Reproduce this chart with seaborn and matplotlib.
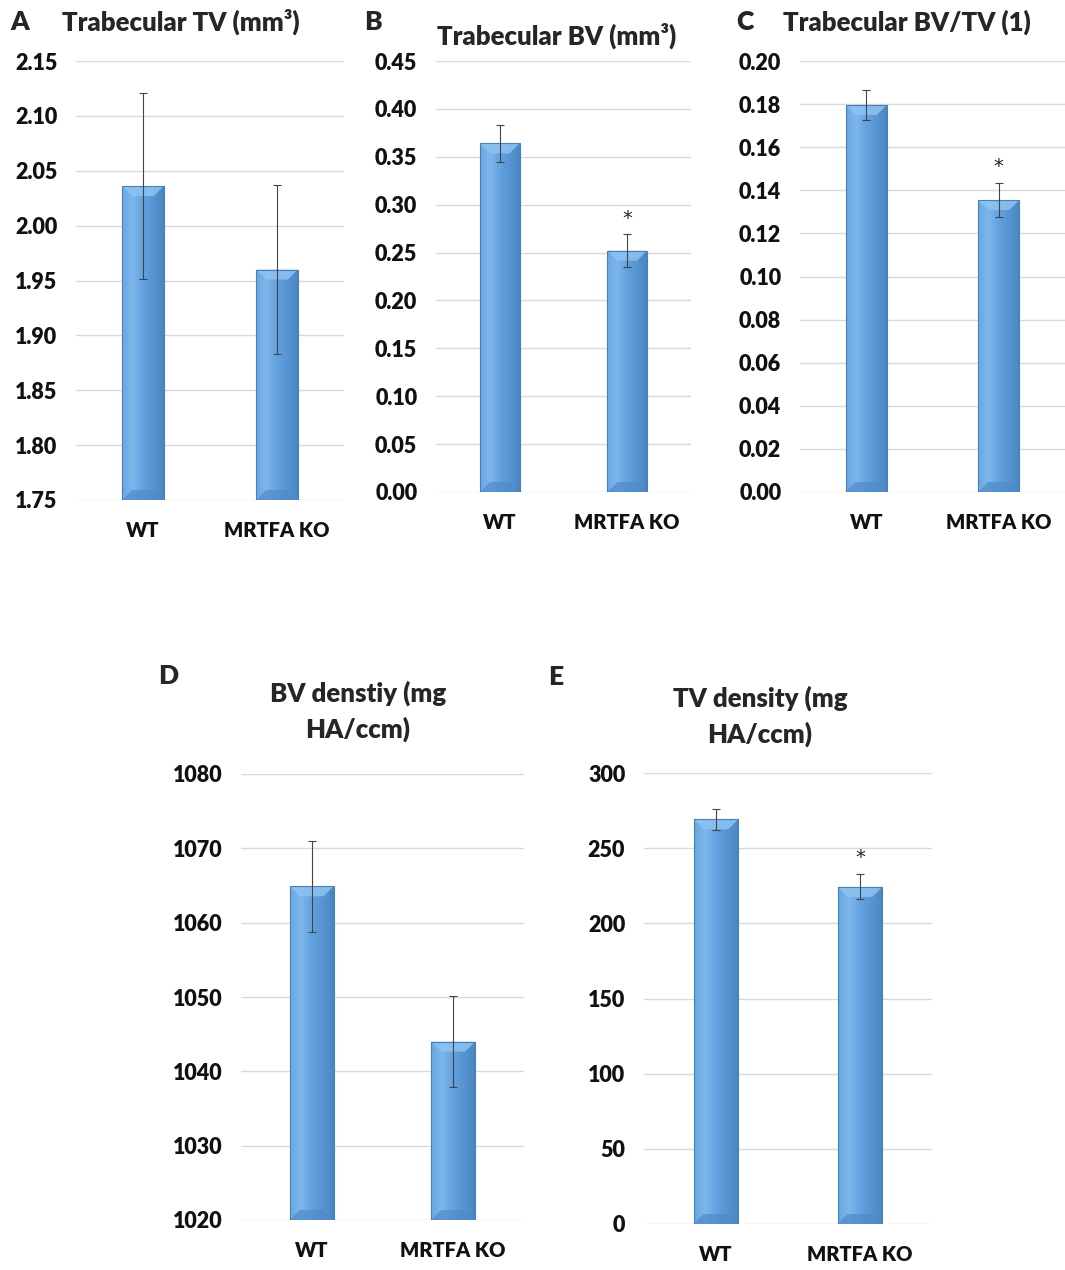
import numpy as np
import matplotlib
matplotlib.use("Agg")
import matplotlib.pyplot as plt
import seaborn as sns
from matplotlib.patches import Polygon
from matplotlib.colors import LinearSegmentedColormap

# ---------------- data ----------------
categories = ["WT", "MRTFA KO"]

tv_mean = [2.036, 1.960]
tv_err = [0.085, 0.077]

bv_mean = [0.364, 0.252]
bv_err = [0.019, 0.017]

bvtv_mean = [0.1796, 0.1355]
bvtv_err = [0.007, 0.008]

bvd_mean = [1064.9, 1044.0]
bvd_err = [6.1, 6.1]

tvd_mean = [269.2, 224.2]
tvd_err = [6.8, 8.3]

sig_B = [False, True]
sig_C = [False, True]
sig_E = [False, True]

# ---------------- style ----------------
sns.set_style("white")
plt.rcParams["font.family"] = ["Lato", "DejaVu Sans"]
WEIGHT = "heavy"
plt.rcParams["font.weight"] = WEIGHT

W, H = 1065, 1270
fig = plt.figure(figsize=(W / 100, H / 100), dpi=100)
fig.patch.set_facecolor("white")

BASE = "#5B9BD5"
EDGE = "#4A7FB5"
grad_cmap = LinearSegmentedColormap.from_list(
    "g", ["#6AA8E2", "#7DB6EC", "#63A2DE", "#5795D2", "#4A86C2"])


def px_axes(left, right, top, bottom):
    return fig.add_axes([left / W, 1 - bottom / H, (right - left) / W, (bottom - top) / H])


def ftext(x, y, s, **kw):
    fig.text(x / W, 1 - y / H, s, **kw)


def decorate_bars(ax, ylim):
    ax.figure.canvas.draw()
    bbox = ax.get_window_extent()
    ypp = (ylim[1] - ylim[0]) / bbox.height
    xpp = (ax.get_xlim()[1] - ax.get_xlim()[0]) / bbox.width
    for p in list(ax.patches):
        x0 = p.get_x()
        w = p.get_width()
        y0 = max(p.get_y(), ylim[0])
        y1 = p.get_y() + p.get_height()
        p.set_facecolor("none")
        p.set_edgecolor(EDGE)
        p.set_linewidth(0.8)
        p.set_zorder(3)
        grad = np.linspace(0, 1, 64).reshape(1, -1)
        im = ax.imshow(grad, cmap=grad_cmap, aspect="auto",
                       extent=[x0, x0 + w, y0, y1], zorder=2, interpolation="bicubic")
        im.set_clip_path(p)
        d = 10
        dx = d * xpp
        dy = d * ypp
        top = Polygon([[x0, y1], [x0 + w, y1], [x0 + w - dx, y1 - dy], [x0 + dx, y1 - dy]],
                      closed=True, facecolor="#8EC3F2", edgecolor="none", alpha=0.85, zorder=2.5)
        bot = Polygon([[x0, y0], [x0 + w, y0], [x0 + w - dx, y0 + dy], [x0 + dx, y0 + dy]],
                      closed=True, facecolor="#4E8BC8", edgecolor="none", alpha=0.7, zorder=2.5)
        ax.add_patch(top)
        ax.add_patch(bot)
    ax.set_xlim(-0.5, 1.5)
    ax.set_ylim(*ylim)


def panel(rect, means, errs, ylim, ticks, fmt, sig=None, star_off=0.0):
    ax = px_axes(*rect)
    sns.barplot(x=categories, y=means, ax=ax, color=BASE, width=0.31,
                errorbar=None, saturation=1)
    ax.set_ylim(*ylim)
    ax.set_xlim(-0.5, 1.5)
    ax.set_yticks(ticks)
    ax.set_yticklabels([fmt.format(t) for t in ticks])
    ax.yaxis.grid(True, color="#D9D9D9", linewidth=1.0)
    ax.set_axisbelow(True)
    for s in ax.spines.values():
        s.set_visible(False)
    ax.tick_params(axis="y", length=0, pad=13.5, labelsize=15.5)
    ax.tick_params(axis="x", length=0, pad=15, labelsize=14.5)
    for lab in ax.get_xticklabels() + ax.get_yticklabels():
        lab.set_fontweight(WEIGHT)
        lab.set_color("#111111")
    ax.set_xlabel("")
    ax.set_ylabel("")
    ax.errorbar(range(len(means)), means, yerr=errs, fmt="none",
                ecolor="#444444", elinewidth=0.8, capsize=3, capthick=0.8, zorder=5)
    decorate_bars(ax, ylim)
    if sig is not None:
        for i, s in enumerate(sig):
            if s:
                ax.text(i, means[i] + errs[i] + star_off, "*", ha="center", va="bottom",
                        fontsize=14, fontweight="normal", color="#222222",
                        family=["DejaVu Sans"])
    return ax


# A
panel((76, 344, 61, 500), tv_mean, tv_err, (1.75, 2.15),
      [1.75, 1.80, 1.85, 1.90, 1.95, 2.00, 2.05, 2.10, 2.15], "{:.2f}")
# B
panel((436, 691, 61, 492), bv_mean, bv_err, (0.0, 0.45),
      [0.0, 0.05, 0.10, 0.15, 0.20, 0.25, 0.30, 0.35, 0.40, 0.45], "{:.2f}", sig_B, 0.007)
# C
panel((800, 1065, 61, 492), bvtv_mean, bvtv_err, (0.0, 0.20),
      [0.0, 0.02, 0.04, 0.06, 0.08, 0.10, 0.12, 0.14, 0.16, 0.18, 0.20], "{:.2f}", sig_C, 0.003)
# D
panel((241, 524, 774, 1220), bvd_mean, bvd_err, (1020, 1080),
      [1020, 1030, 1040, 1050, 1060, 1070, 1080], "{:.0f}")
# E
panel((644, 932, 773, 1224), tvd_mean, tvd_err, (0, 300),
      [0, 50, 100, 150, 200, 250, 300], "{:.0f}", sig_E, 5)

# titles and panel letters
TS = 18.5
LS = 19
ftext(20, 22, "A", fontsize=LS, fontweight=WEIGHT, ha="center", va="center")
ftext(62, 22, "Trabecular TV (mm³)", fontsize=TS, fontweight=WEIGHT, ha="left", va="center")
ftext(373, 22, "B", fontsize=LS, fontweight=WEIGHT, ha="center", va="center")
ftext(557, 36, "Trabecular BV (mm³)", fontsize=TS, fontweight=WEIGHT, ha="center", va="center")
ftext(745, 22, "C", fontsize=LS, fontweight=WEIGHT, ha="center", va="center")
ftext(783, 22, "Trabecular BV/TV (1)", fontsize=TS, fontweight=WEIGHT, ha="left", va="center")
ftext(168, 676, "D", fontsize=LS, fontweight=WEIGHT, ha="center", va="center")
ftext(358, 693, "BV denstiy (mg", fontsize=TS, fontweight=WEIGHT, ha="center", va="center")
ftext(358, 729, "HA/ccm)", fontsize=TS, fontweight=WEIGHT, ha="center", va="center")
ftext(556, 677, "E", fontsize=LS, fontweight=WEIGHT, ha="center", va="center")
ftext(760, 698, "TV density (mg", fontsize=TS, fontweight=WEIGHT, ha="center", va="center")
ftext(760, 734, "HA/ccm)", fontsize=TS, fontweight=WEIGHT, ha="center", va="center")

fig.savefig("out.png", dpi=100, facecolor="white")
